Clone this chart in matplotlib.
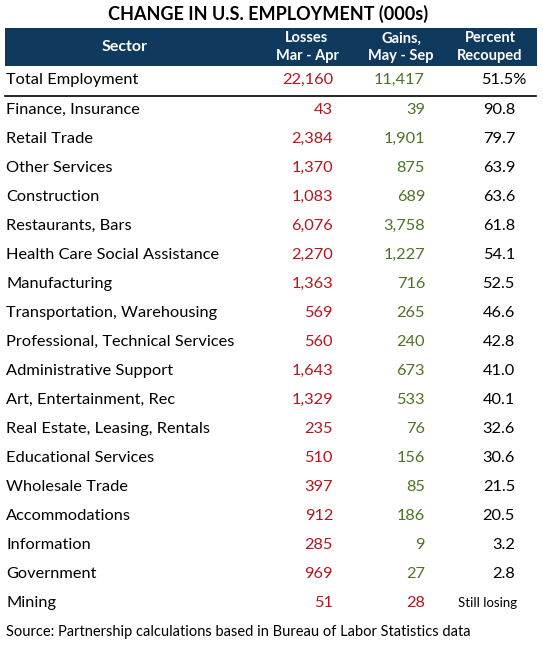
import matplotlib
matplotlib.use('Agg')
import matplotlib.pyplot as plt
from matplotlib.patches import Rectangle

# ===== DANE =====
sectors = ["Total Employment", "Finance, Insurance", "Retail Trade", "Other Services",
           "Construction", "Restaurants, Bars", "Health Care Social Assistance",
           "Manufacturing", "Transportation, Warehousing", "Professional, Technical Services",
           "Administrative Support", "Art, Entertainment, Rec", "Real Estate, Leasing, Rentals",
           "Educational Services", "Wholesale Trade", "Accommodations", "Information",
           "Government", "Mining"]
losses = [22160, 43, 2384, 1370, 1083, 6076, 2270, 1363, 569, 560, 1643, 1329,
          235, 510, 397, 912, 285, 969, 51]
gains = [11417, 39, 1901, 875, 689, 3758, 1227, 716, 265, 240, 673, 533,
         76, 156, 85, 186, 9, 27, -28]
pct = ["51.5%", "90.8", "79.7", "63.9", "63.6", "61.8", "54.1", "52.5", "46.6", "42.8",
       "41.0", "40.1", "32.6", "30.6", "21.5", "20.5", "3.2", "2.8", "Still losing"]
headers = ["Sector", "Losses\nMar - Apr", "Gains,\nMay - Sep", "Percent\nRecouped"]
title = "CHANGE IN U.S. EMPLOYMENT (000s)"
source = "Source: Partnership calculations based in Bureau of Labor Statistics data"

# ===== STYL =====
plt.rcParams['font.family'] = ['Lato', 'DejaVu Sans']
NAVY = '#0f3a5e'
RED = '#b8141f'
GREEN = '#4d7326'

W, H = 543, 658
fig = plt.figure(figsize=(W / 100, H / 100), dpi=100)
ax = fig.add_axes([0, 0, 1, 1])
ax.set_xlim(0, W)
ax.set_ylim(H, 0)
ax.axis('off')

# tytul
ax.text(268, 14, title, ha='center', va='center', fontsize=13, fontweight='bold', color='black')

# naglowek
ax.add_patch(Rectangle((5, 28), 532, 38, color=NAVY, lw=0))
ax.text(125, 47, headers[0], ha='center', va='center', fontsize=11.5, fontweight='bold', color='white')
head_x = [307, 401, 490]
for hx, h in zip(head_x, headers[1:]):
    ax.text(hx, 47, h, ha='center', va='center', fontsize=10.5, fontweight='bold',
            color='white', linespacing=1.3)

# wiersze
x_loss, x_gain, x_pct = 333, 425, 515
y0, dy = 110, 29
fs = 11.8
for i, name in enumerate(sectors):
    y = 80 if i == 0 else y0 + (i - 1) * dy
    ax.text(6, y, name, ha='left', va='center', fontsize=fs, color='black')
    ax.text(x_loss, y, f"{losses[i]:,}", ha='right', va='center', fontsize=fs, color=RED)
    g = gains[i]
    ax.text(x_gain, y, f"{abs(g):,}", ha='right', va='center', fontsize=fs,
            color=GREEN if g >= 0 else RED)
    p = pct[i]
    if p.endswith('%'):
        ax.text(527, y, p, ha='right', va='center', fontsize=fs, color='black')
    elif p[0].isdigit():
        ax.text(x_pct, y, p, ha='right', va='center', fontsize=fs, color='black')
    else:
        ax.text(x_pct + 2, y, p, ha='right', va='center', fontsize=9.5, color='black')

ax.plot([5, 536], [96, 96], color='black', lw=1.2)

ax.text(6, 632, source, ha='left', va='center', fontsize=10.5, color='black')

plt.savefig('out.png', dpi=100)
